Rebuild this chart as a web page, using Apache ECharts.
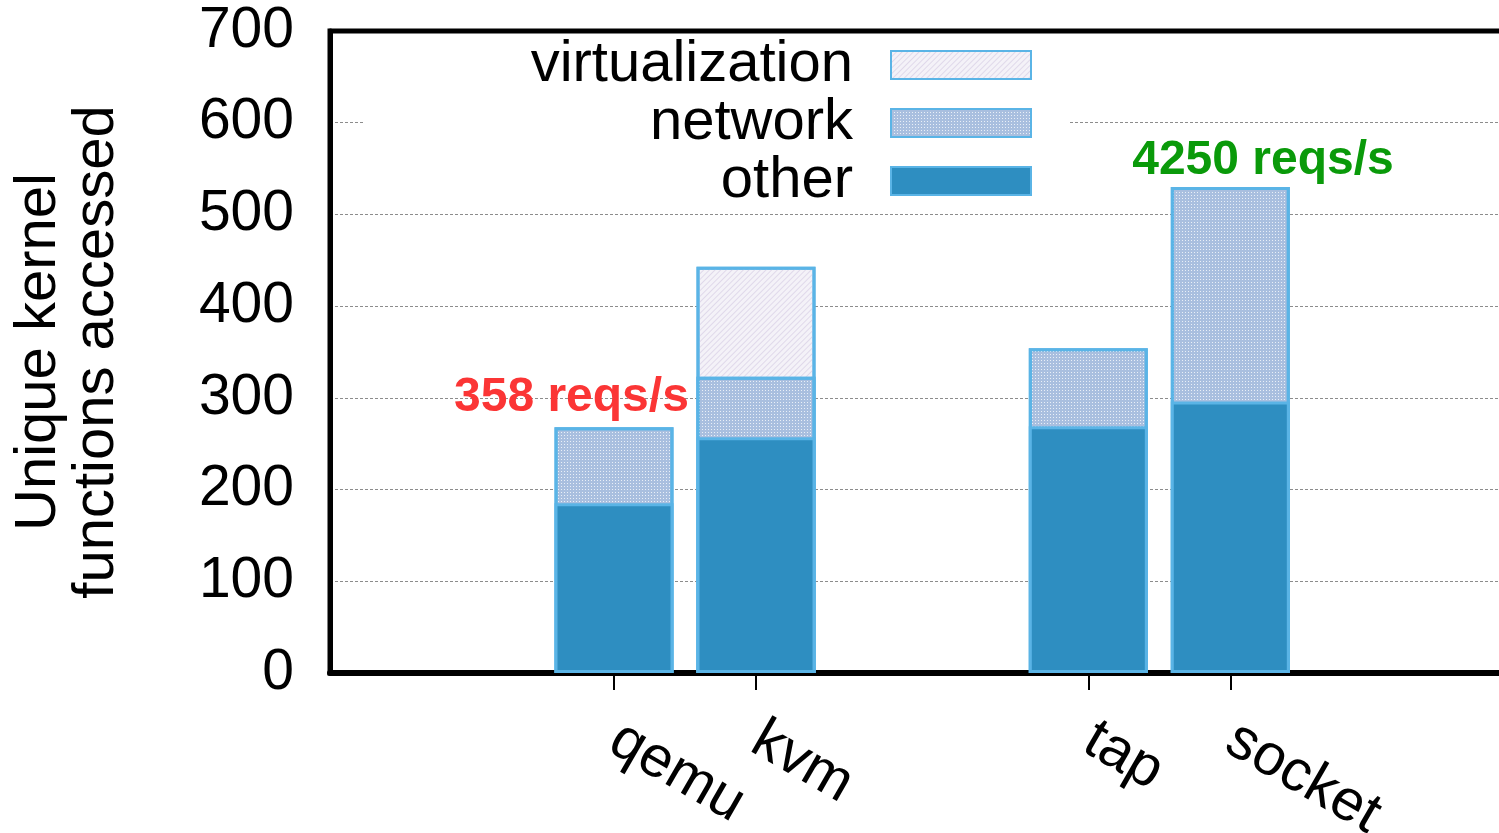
<!DOCTYPE html>
<html>
<head>
<meta charset="utf-8">
<script src="https://cdn.jsdelivr.net/npm/echarts@6/dist/echarts.min.js"></script>
<style>html,body{margin:0;padding:0;background:#fff;overflow:hidden}#c{width:1499px;height:833px}</style>
</head>
<body>
<div id="c"></div>
<script>
// ---- data ----
const categories = ['qemu', 'kvm', 'tap', 'socket'];
const positions = [0, 1, 3.34, 4.34];
const otherValues = [185, 257, 269, 296];
const networkValues = [83, 66, 85, 234];
const virtualizationValues = [null, 120, null, null];
const yTicks = [0, 100, 200, 300, 400, 500, 600, 700];
const annotationTexts = ['358 reqs/s', '4250 reqs/s'];
const annotationX = [-0.30, 4.57];
const annotationY = [300, 559];
const annotationColors = ['#fb3535', '#0a9a0a'];

const FONT = 'Liberation Sans';
const BORDER = '#5ab4e6';

// stacked tops (each segment drawn from 0 to its cumulative top, upper ones behind)
const otherTop = otherValues.map((v, i) => [positions[i], v]);
const networkTop = networkValues.map((v, i) => [positions[i], otherValues[i] + v]);
const virtualizationTop = virtualizationValues.map((v, i) =>
  [positions[i], v == null ? '-' : otherValues[i] + networkValues[i] + v]);

// grid line colours per tick (the top one sits under the frame)
const gridColors = yTicks.map((v, i) => i === yTicks.length - 1 ? 'rgba(0,0,0,0)' : '#8c8c8c');

const chart = echarts.init(document.getElementById('c'), null, {renderer: 'canvas'});
chart.setOption({
  animation: false,
  backgroundColor: '#fff',
  textStyle: {fontFamily: FONT},
  grid: {
    left: 330, width: 1189, top: 31, bottom: 160,
    outerBoundsMode: 'none', containLabel: false,
    show: true, borderColor: '#000', borderWidth: 5, backgroundColor: 'transparent'
  },
  xAxis: {
    type: 'value', min: -2, max: 6.373,
    splitLine: {show: false},
    axisLine: {show: true, onZero: false, lineStyle: {color: '#000', width: 6}},
    axisTick: {show: true, customValues: positions, length: 17, inside: false, lineStyle: {color: '#000', width: 2}},
    axisLabel: {
      show: true, customValues: positions, rotate: -30, margin: 63,
      fontSize: 58, color: '#000', fontFamily: FONT,
      formatter: function (v) {
        let best = 0, d = 1e9;
        positions.forEach((p, i) => { if (Math.abs(p - v) < d) { d = Math.abs(p - v); best = i; } });
        return categories[best];
      }
    }
  },
  yAxis: {
    type: 'value', min: 0, max: 700, interval: 100,
    axisLine: {show: true, onZero: false, lineStyle: {color: '#000', width: 5}},
    axisTick: {show: false},
    axisLabel: {fontSize: 57, color: '#000', margin: 36, fontFamily: FONT,
      formatter: v => yTicks.includes(v) ? String(v) : ''},
    splitLine: {show: true, lineStyle: {color: gridColors, width: 1, type: [3, 2]}},
    name: 'Unique kernel\nfunctions accessed',
    nameLocation: 'middle', nameRotate: 90, nameGap: 204,
    nameTextStyle: {fontSize: 58, lineHeight: 58, color: '#000', fontFamily: FONT}
  },
  legend: {
    data: ['virtualization', 'network', 'other'],
    orient: 'vertical', align: 'right',
    right: 431, top: 36,
    padding: [0, 36, 0, 167],
    backgroundColor: '#fff',
    itemWidth: 140, itemHeight: 28, itemGap: 0,
    icon: 'rect',
    textStyle: {fontSize: 58, color: '#000', padding: [0, 33, 0, 0], fontFamily: FONT}
  },
  series: [
    {
      name: 'virtualization', type: 'bar', barWidth: 119, barGap: '-100%',
      data: virtualizationTop,
      itemStyle: {
        color: '#f4f2f8', borderColor: BORDER, borderWidth: 3,
        decal: {symbol: 'rect', symbolSize: 1, dashArrayX: [1, 0], dashArrayY: [1, 3], rotation: -Math.PI / 4, color: 'rgba(210,200,225,0.6)'}
      }
    },
    {
      name: 'network', type: 'bar', barWidth: 119, barGap: '-100%',
      data: networkTop,
      itemStyle: {
        color: '#a9bfdf', borderColor: BORDER, borderWidth: 3,
        decal: {symbol: 'rect', symbolSize: 1, dashArrayX: [1, 2], dashArrayY: [1, 2], color: 'rgba(255,255,255,0.75)'}
      }
    },
    {
      name: 'other', type: 'bar', barWidth: 119, barGap: '-100%',
      data: otherTop,
      itemStyle: {color: '#2e8ec1', borderColor: BORDER, borderWidth: 3}
    },
    {
      name: 'annotations', type: 'scatter', symbolSize: 1,
      itemStyle: {color: 'rgba(0,0,0,0)', opacity: 1},
      silent: true,
      data: annotationTexts.map((t, i) => ({
        value: [annotationX[i], annotationY[i]],
        label: {show: true, position: 'inside', formatter: t, color: annotationColors[i],
          fontSize: 48, fontWeight: 'bold', fontFamily: FONT, opacity: 1}
      }))
    }
  ]
});
</script>
</body>
</html>
